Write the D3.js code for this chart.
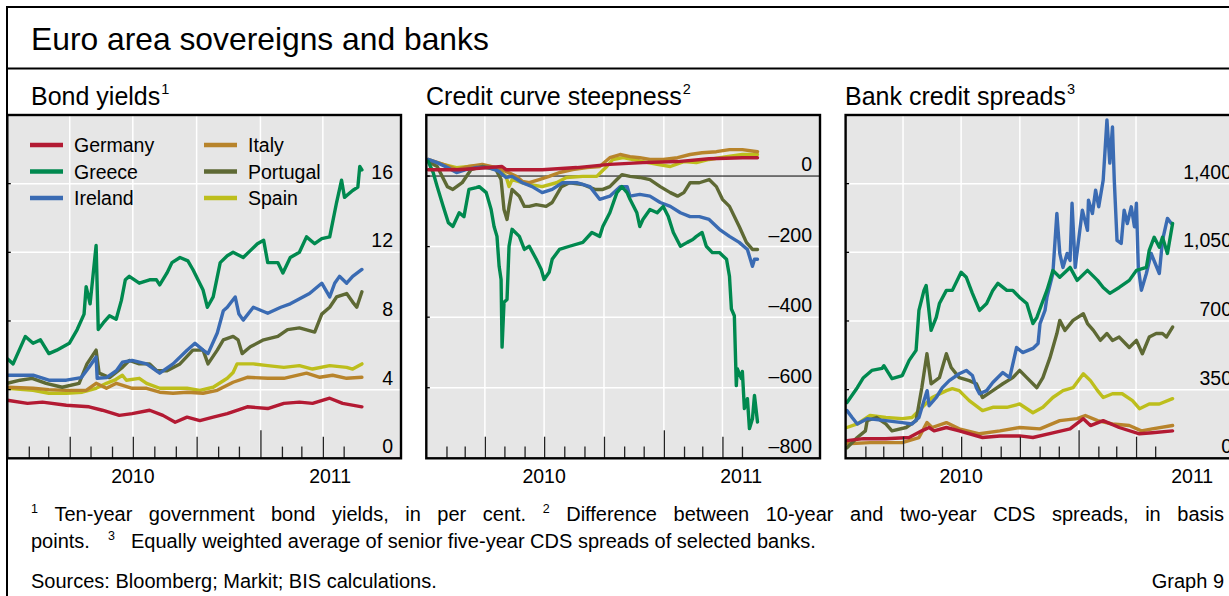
<!DOCTYPE html>
<html><head><meta charset="utf-8">
<script src="https://cdn.jsdelivr.net/npm/d3@7"></script>
<style>
html,body{margin:0;padding:0;background:#fff;overflow:hidden;}
svg{display:block;font-family:"Liberation Sans",Arial,Helvetica,sans-serif;}
</style></head><body>
<svg id="c" width="1229" height="596"></svg>
<script>
// ---------- DATA (t = months elapsed since 1 Jan 2010, value) ----------
const countries = ["Germany","Greece","Ireland","Italy","Portugal","Spain"];
const yieldTicks = [0,4,8,12,16];
const steepTicks = [-800,-600,-400,-200,0];
const bankTicks = [0,350,700,1050,1400];
const yearLabels = ["2010","2011"];

// Panel 1: ten-year bond yields, %
const yieldGermany = [[0,3.38],[0.94,3.2],[1.7,3.27],[2.84,3.09],[3.93,3.0],[4.55,2.8],[5.35,2.5],[5.97,2.6],[6.78,2.8],[7.4,2.5],[7.97,2.1],[8.54,2.4],[9.15,2.2],[9.77,2.4],[10.44,2.6],[11.39,3.0],[12.34,2.9],[13.1,3.2],[13.9,3.27],[14.52,3.2],[15.33,3.5],[15.95,3.2],[16.85,3.0]];
const yieldGreece = [[0,5.8],[0.27,5.5],[0.84,7.1],[1.22,6.7],[1.6,6.9],[2.03,6.1],[2.4,6.3],[2.98,6.7],[3.36,7.5],[3.69,8.4],[3.79,10.0],[3.98,9.0],[4.26,12.4],[4.36,7.5],[4.6,7.9],[4.88,8.3],[5.2,8.1],[5.45,9.2],[5.64,10.4],[5.83,10.6],[6.3,10.2],[6.78,10.4],[7.1,10.4],[7.25,10.1],[7.59,10.8],[7.82,11.4],[8.2,11.7],[8.58,11.5],[8.82,11.0],[9.3,9.8],[9.5,8.8],[9.77,9.4],[10.1,11.4],[10.44,11.8],[10.72,12.0],[11.2,11.7],[11.53,12.1],[11.86,12.5],[12.15,12.7],[12.34,11.4],[12.81,11.4],[13.05,10.8],[13.43,11.7],[13.9,12.0],[14.24,12.9],[14.62,12.5],[14.95,12.8],[15.33,12.9],[15.66,14.9],[15.9,16.2],[16.04,15.2],[16.42,15.6],[16.66,15.8],[16.75,17.0],[16.85,16.8]];
const yieldIreland = [[0,4.84],[1.22,4.84],[2.03,4.55],[2.84,4.55],[3.55,4.7],[3.93,5.3],[4.26,5.9],[4.31,4.66],[4.74,4.7],[5.21,5.1],[5.5,5.6],[5.97,5.7],[6.64,5.5],[7.25,4.96],[7.87,5.5],[8.54,6.3],[8.92,6.7],[9.3,6.3],[9.53,6.1],[9.96,7.3],[10.25,8.6],[10.44,8.8],[10.82,9.4],[11.0,8.4],[11.2,8.05],[11.67,8.8],[12.34,8.45],[12.95,8.8],[13.43,9.0],[14.38,9.6],[14.95,10.2],[15.33,9.4],[15.57,10.2],[15.8,10.6],[16.14,10.2],[16.42,10.6],[16.85,11.0]];
const yieldItaly = [[0,4.14],[1.22,4.08],[2.03,4.0],[2.84,3.96],[3.79,3.96],[4.26,4.37],[4.74,4.08],[5.21,4.37],[5.97,4.08],[6.64,4.08],[7.25,3.85],[7.87,3.79],[8.54,3.85],[9.3,3.79],[9.96,3.96],[10.72,4.43],[11.39,4.72],[12.34,4.66],[13.1,4.66],[14.24,4.96],[14.86,4.72],[15.47,4.84],[16.14,4.66],[16.85,4.72]];
const yieldPortugal = [[0,4.37],[0.6,4.55],[1.17,4.66],[1.89,4.37],[2.65,4.14],[3.45,4.37],[3.83,5.5],[4.26,6.3],[4.4,4.96],[4.88,4.7],[5.5,5.3],[5.83,5.7],[6.3,5.5],[6.78,5.5],[7.11,5.1],[7.59,5.1],[8.2,5.5],[8.82,6.3],[9.3,6.3],[9.53,5.5],[9.96,6.3],[10.25,6.9],[10.72,7.1],[10.96,6.9],[11.15,6.1],[11.53,6.5],[12.15,6.9],[12.81,7.1],[13.29,7.5],[13.9,7.6],[14.62,7.35],[14.95,8.4],[15.33,8.8],[15.66,9.4],[16.14,9.6],[16.42,9.1],[16.61,8.8],[16.85,9.7]];
const yieldSpain = [[0,4.08],[1.22,3.96],[2.03,3.79],[2.84,3.79],[3.6,3.85],[4.26,4.08],[4.74,4.37],[5.12,4.55],[5.5,4.84],[5.69,4.55],[6.3,4.66],[6.64,4.37],[7.25,4.08],[7.87,4.08],[8.54,4.08],[9.15,3.96],[9.77,4.14],[10.44,4.66],[10.72,5.0],[10.91,5.5],[11.67,5.5],[12.34,5.4],[13.1,5.3],[13.9,5.4],[14.52,5.2],[15.33,5.4],[16.14,5.3],[16.42,5.2],[16.85,5.5]];

// Panel 2: 10-year minus 2-year CDS spreads, bp
const steepGermany = [[0.09,18],[1.7,18],[3.88,27],[4.08,18],[5.9,18],[7.62,24],[9.29,33],[10.96,38],[12.68,41],[14.34,49],[16.02,52],[16.77,52]];
const steepGreece = [[0.09,42],[0.34,10],[0.54,-30],[0.84,-86],[1.1,-132],[1.35,-143],[1.7,-104],[1.96,-115],[2.21,-38],[2.57,-33],[2.72,-30],[3.07,-47],[3.32,-95],[3.47,-143],[3.62,-171],[3.73,-256],[3.83,-293],[3.88,-485],[3.98,-358],[4.13,-350],[4.23,-199],[4.38,-151],[4.74,-171],[4.99,-208],[5.24,-199],[5.6,-236],[5.85,-264],[6.0,-293],[6.25,-273],[6.4,-236],[6.76,-208],[7.26,-199],[7.92,-188],[8.38,-160],[8.78,-171],[8.94,-143],[9.29,-104],[9.64,-47],[9.89,-30],[10.15,-47],[10.3,-66],[10.65,-104],[10.8,-143],[10.96,-123],[11.31,-95],[11.67,-104],[11.97,-86],[12.22,-115],[12.47,-160],[12.82,-199],[13.18,-188],[13.48,-180],[13.68,-171],[13.99,-160],[14.2,-199],[14.5,-217],[14.85,-217],[15.21,-236],[15.36,-284],[15.46,-377],[15.61,-396],[15.71,-594],[15.76,-546],[15.97,-574],[16.02,-554],[16.12,-659],[16.27,-631],[16.37,-716],[16.52,-688],[16.62,-622],[16.77,-697]];
const steepIreland = [[0.09,47],[0.54,38],[1.05,24],[1.55,10],[2.06,18],[2.56,24],[3.22,24],[3.73,13],[4.08,-4],[4.38,-1],[4.89,-19],[5.39,-30],[5.9,-47],[6.4,-38],[6.91,-19],[7.62,-19],[8.28,-30],[8.78,-66],[9.29,-57],[9.8,-30],[10.15,-30],[10.3,-57],[10.8,-52],[11.31,-57],[11.82,-75],[12.32,-86],[12.82,-104],[13.33,-115],[13.84,-115],[14.34,-123],[14.85,-151],[15.36,-171],[15.86,-188],[16.27,-208],[16.52,-256],[16.62,-236],[16.77,-236]];
const steepItaly = [[0.09,47],[0.84,33],[1.55,18],[2.21,27],[2.87,33],[3.57,24],[4.08,13],[4.59,-1],[4.89,-15],[5.24,-19],[5.75,-10],[6.25,-1],[6.76,10],[7.42,18],[8.13,24],[8.78,27],[9.29,52],[9.8,61],[10.3,55],[10.8,52],[11.31,47],[11.97,47],[12.68,52],[13.33,61],[13.99,66],[14.7,69],[15.36,75],[16.02,75],[16.77,69]];
const steepPortugal = [[0.09,41],[0.54,27],[1.05,-30],[1.35,-38],[1.86,-19],[2.31,18],[2.87,27],[3.57,18],[3.83,-10],[3.98,-95],[4.13,-123],[4.23,-86],[4.38,-38],[4.74,-57],[4.99,-86],[5.24,-86],[5.6,-81],[6.1,-86],[6.4,-75],[6.86,-30],[7.26,-19],[7.92,-24],[8.53,-38],[8.94,-38],[9.29,-30],[9.64,-10],[9.89,4],[10.3,-1],[10.8,-4],[11.31,-10],[11.82,-30],[12.32,-47],[12.68,-57],[12.99,-47],[13.33,-19],[13.84,-19],[14.34,-10],[14.7,-30],[15.0,-66],[15.36,-86],[15.86,-143],[16.22,-188],[16.52,-208],[16.77,-208]];
const steepSpain = [[0.09,45],[0.84,33],[1.55,24],[2.21,27],[2.87,30],[3.57,24],[4.08,-1],[4.23,-30],[4.38,-10],[4.89,-19],[5.24,-24],[5.9,-30],[6.61,-19],[7.11,-4],[7.92,-1],[8.63,-1],[9.14,27],[9.44,47],[9.95,52],[10.45,47],[10.96,41],[11.67,33],[12.32,27],[12.99,41],[13.68,38],[14.34,47],[15.21,55],[16.02,61],[16.77,61]];

// Panel 3: bank five-year CDS spreads, bp
const bankGermany = [[0.07,90],[0.9,100],[2.13,100],[3.32,106],[3.98,140],[4.35,157],[4.6,140],[5.23,157],[5.9,140],[7.08,106],[7.96,114],[8.99,114],[9.66,106],[10.69,130],[11.57,150],[12.24,202],[12.6,167],[13.27,192],[14.15,157],[15.18,125],[15.85,130],[16.88,140]];
const bankGreece = [[0.07,284],[0.59,360],[0.9,411],[1.36,448],[1.93,458],[2.03,472],[2.44,406],[2.96,422],[3.32,499],[3.68,550],[3.83,754],[4.09,856],[4.2,881],[4.45,652],[4.71,718],[4.87,789],[5.23,856],[5.54,856],[6.0,948],[6.26,923],[6.57,841],[6.93,754],[7.29,789],[7.6,856],[7.86,892],[8.32,856],[8.63,856],[8.99,820],[9.35,789],[9.66,687],[9.86,718],[10.12,789],[10.38,856],[10.54,907],[10.69,958],[11.05,923],[11.57,973],[11.93,907],[12.45,958],[12.96,907],[13.27,871],[13.64,841],[14.15,871],[14.66,907],[15.02,958],[15.54,973],[15.69,1060],[15.95,1127],[16.21,1076],[16.37,1127],[16.62,1044],[16.88,1197]];
const bankIreland = [[0.07,243],[0.33,208],[0.59,175],[1.1,202],[2.13,192],[2.96,182],[3.47,175],[3.83,208],[4.09,294],[4.25,345],[4.35,268],[4.71,310],[5.02,360],[5.38,396],[5.9,431],[6.26,448],[6.57,422],[6.77,360],[6.93,329],[7.29,345],[7.6,386],[8.11,437],[8.47,411],[8.83,565],[9.14,539],[9.66,560],[9.92,585],[10.02,687],[10.28,754],[10.38,820],[10.69,942],[10.9,1248],[11.05,1044],[11.21,973],[11.42,1044],[11.57,1009],[11.67,1300],[11.83,973],[11.98,1095],[12.19,1265],[12.45,1162],[12.5,1316],[12.7,1248],[12.86,1367],[13.02,1282],[13.27,1418],[13.48,1725],[13.64,1505],[13.79,1689],[13.89,1418],[14.04,1111],[14.25,1095],[14.4,1265],[14.56,1197],[14.76,1282],[14.92,1180],[15.02,1300],[15.12,973],[15.28,856],[15.54,942],[15.79,1044],[16.21,942],[16.37,1111],[16.62,1223],[16.82,1197]];
const bankItaly = [[0.07,74],[1.26,80],[2.13,80],[2.96,80],[3.83,106],[4.24,182],[4.5,157],[5.23,182],[5.9,150],[6.93,125],[7.96,140],[8.99,157],[10.02,150],[11.05,192],[11.93,202],[12.34,218],[12.96,192],[13.79,175],[14.66,167],[15.28,140],[15.85,150],[16.88,167]];
const bankPortugal = [[0.07,54],[0.59,106],[1.0,140],[1.1,192],[1.62,208],[2.13,175],[2.44,140],[3.16,157],[3.68,192],[3.98,360],[4.24,533],[4.45,380],[4.87,411],[5.23,533],[5.48,463],[5.9,411],[6.41,396],[6.77,380],[7.08,310],[7.6,345],[8.11,380],[8.63,411],[8.99,448],[9.35,411],[9.86,360],[10.17,411],[10.54,513],[10.9,636],[11.05,703],[11.31,652],[11.72,703],[12.24,737],[12.45,687],[12.75,652],[13.11,601],[13.48,636],[13.79,601],[14.15,618],[14.66,565],[15.02,601],[15.33,533],[15.69,618],[16.05,636],[16.37,636],[16.57,618],[16.88,669]];
const bankSpain = [[0.07,157],[0.59,175],[1.26,218],[2.13,208],[2.96,202],[3.47,208],[3.83,243],[4.5,310],[5.23,345],[5.54,355],[5.9,345],[6.41,294],[7.08,243],[7.6,260],[8.32,260],[8.99,277],[9.66,232],[10.17,260],[10.69,310],[11.21,345],[11.72,360],[12.24,431],[12.6,396],[12.96,345],[13.27,310],[13.79,329],[14.3,329],[14.82,294],[15.18,253],[15.69,277],[16.21,277],[16.88,304]];

// ---------- STYLE / LAYOUT ----------
const colors = {Germany:"#B31A33",Greece:"#00894F",Ireland:"#3A6BB3",Italy:"#B8842B",Portugal:"#5E6934",Spain:"#BDBE1C"};
const drawOrder = ["Spain","Italy","Portugal","Ireland","Greece","Germany"];
const base = new Date(2010,0,1);
function monthToDate(t){
  const m = Math.floor(t);
  const a = d3.timeMonth.offset(base, m), b = d3.timeMonth.offset(base, m+1);
  return new Date(+a + (t-m)*(b-a));
}
const FONT = 19.5, NOTE_FONT = 20;
const svg = d3.select("#c");

// outer frame
svg.append("rect").attr("x",7).attr("y",7).attr("width",1260).attr("height",620)
  .attr("fill","none").attr("stroke","#000").attr("stroke-width",2);
svg.append("line").attr("x1",7).attr("x2",1260).attr("y1",68.5).attr("y2",68.5)
  .attr("stroke","#000").attr("stroke-width",2);
svg.append("text").attr("x",31).attr("y",50).attr("font-size",31.8).attr("fill","#000")
  .text("Euro area sovereigns and banks");

const panels = [
  {title:"Bond yields", note:"1", tx:31, left:7.3, right:401, endT:18.7, lab2011:15.35,
   domain:[0,20], ticks:yieldTicks, zero:false, legend:true,
   data:{Germany:yieldGermany,Greece:yieldGreece,Ireland:yieldIreland,Italy:yieldItaly,Portugal:yieldPortugal,Spain:yieldSpain}},
  {title:"Credit curve steepness", note:"2", tx:426, left:426.3, right:820, endT:19.9, lab2011:15.96,
   domain:[-800,173], ticks:steepTicks, zero:true, legend:false,
   data:{Germany:steepGermany,Greece:steepGreece,Ireland:steepIreland,Italy:steepItaly,Portugal:steepPortugal,Spain:steepSpain}},
  {title:"Bank credit spreads", note:"3", tx:845, left:845.6, right:1240, endT:20.33, lab2011:17.9,
   domain:[0,1750], ticks:bankTicks, zero:false, legend:false,
   data:{Germany:bankGermany,Greece:bankGreece,Ireland:bankIreland,Italy:bankItaly,Portugal:bankPortugal,Spain:bankSpain}}
];
const plotTop = 115, plotBottom = 458.3;
const fmt = d3.format(",");
const fmtLabel = v => fmt(v).replace("−","–").replace("-","–");

panels.forEach((p,i) => {
  const x = d3.scaleTime().domain([base, monthToDate(p.endT)]).range([p.left, p.right]);
  const y = d3.scaleLinear().domain(p.domain).range([plotBottom, plotTop]);
  const g = svg.append("g");

  // subtitle
  const st = g.append("text").attr("x",p.tx).attr("y",105).attr("font-size",25).attr("fill","#000");
  st.append("tspan").text(p.title);
  st.append("tspan").attr("font-size",14.5).attr("dy",-11).attr("dx",1).text(p.note);

  g.append("rect").attr("x",p.left).attr("y",plotTop).attr("width",p.right-p.left).attr("height",plotBottom-plotTop).attr("fill","#E6E6E6");

  // horizontal gridlines
  g.selectAll(".hg").data(p.ticks.filter(v => v !== p.domain[0] && !(p.zero && v===0))).join("line")
    .attr("x1",p.left).attr("x2",p.right).attr("y1",d=>y(d)).attr("y2",d=>y(d))
    .attr("stroke","#fff").attr("stroke-width",1.5);
  // vertical quarterly gridlines
  const quarters = [3,6,9,12,15].map(monthToDate);
  g.selectAll(".vg").data(quarters).join("line")
    .attr("x1",d=>x(d)).attr("x2",d=>x(d)).attr("y1",plotTop).attr("y2",plotBottom)
    .attr("stroke","#fff").attr("stroke-width",1.5);
  if (p.zero) {
    g.append("line").attr("x1",p.left).attr("x2",p.right).attr("y1",y(0)).attr("y2",y(0))
      .attr("stroke","#000").attr("stroke-width",1);
  }

  // series
  const clipId = "clip"+i;
  svg.append("clipPath").attr("id",clipId).append("rect")
    .attr("x",p.left).attr("y",plotTop).attr("width",p.right-p.left).attr("height",plotBottom-plotTop);
  const line = d3.line().x(d=>x(monthToDate(d[0]))).y(d=>y(d[1]));
  const lg = g.append("g").attr("clip-path",`url(#${clipId})`);
  drawOrder.forEach(c => {
    lg.append("path").datum(p.data[c]).attr("d",line).attr("fill","none")
      .attr("stroke",colors[c]).attr("stroke-width",3.4)
      .attr("stroke-linejoin","round").attr("stroke-linecap","round");
  });

  // bottom ticks (month / quarter / year)
  const tickSets = [
    {vals:[1,2,4,5,7,8,10,11,13,14,16], size:11.7},
    {vals:[3,6,9,15], size:21.6},
    {vals:[12], size:28}
  ];
  tickSets.forEach(ts => {
    const ax = g.append("g").attr("transform",`translate(0,${plotBottom})`)
      .call(d3.axisBottom(x).tickValues(ts.vals.map(monthToDate)).tickSize(-ts.size).tickFormat(""));
    ax.select(".domain").remove();
    ax.selectAll("line").attr("stroke","#222").attr("stroke-width",1.3);
  });

  // small left ticks at gridlines
  g.selectAll(".lt").data(p.ticks.filter(v => v !== p.domain[0])).join("line")
    .attr("x1",p.left).attr("x2",p.left+3.5).attr("y1",d=>y(d)).attr("y2",d=>y(d))
    .attr("stroke","#000").attr("stroke-width",1.3);

  // border
  g.append("rect").attr("x",p.left).attr("y",plotTop).attr("width",p.right-p.left).attr("height",plotBottom-plotTop)
    .attr("fill","none").attr("stroke","#000").attr("stroke-width",2.4);

  // y labels
  g.selectAll(".yl").data(p.ticks).join("text")
    .attr("x",p.right-8).attr("y",d=>y(d)-5).attr("text-anchor","end")
    .attr("font-size",FONT).attr("fill","#000").text(fmtLabel);

  // year labels
  const yl = [6, p.lab2011];
  g.selectAll(".xl").data(yearLabels).join("text")
    .attr("x",(d,j)=>x(monthToDate(yl[j]))).attr("y",483).attr("text-anchor","middle")
    .attr("font-size",FONT).attr("fill","#000").text(d=>d);

  // legend
  if (p.legend) {
    const legOrder = [["Germany","Greece","Ireland"],["Italy","Portugal","Spain"]];
    const colX = [30,204];
    legOrder.forEach((col,ci) => col.forEach((c,ri) => {
      const cy = 145 + ri*26.5;
      g.append("line").attr("x1",colX[ci]).attr("x2",colX[ci]+33).attr("y1",cy).attr("y2",cy)
        .attr("stroke",colors[c]).attr("stroke-width",4.5);
      g.append("text").attr("x",colX[ci]+44).attr("y",cy+7).attr("font-size",FONT).attr("fill","#000").text(c);
    }));
  }
});

// ---------- FOOTNOTES ----------
const noteLine1 = [{s:"1"},"Ten-year","government","bond","yields,","in","per","cent.",{s:"2"},"Difference","between","10-year","and","two-year","CDS","spreads,","in","basis"];
(function justify(tokens, x0, x1, yb){
  const els = tokens.map(tk => {
    const sup = typeof tk === "object";
    const t = svg.append("text").attr("y", sup ? yb-8 : yb).attr("font-size", sup ? 12.5 : NOTE_FONT)
      .attr("fill","#000").text(sup ? tk.s : tk);
    return {el:t, w:t.node().getComputedTextLength()};
  });
  const gap = (x1 - x0 - d3.sum(els, e=>e.w)) / (els.length - 1);
  let cx = x0;
  els.forEach(e => { e.el.attr("x", cx); cx += e.w + gap; });
})(noteLine1, 31, 1224, 521);

svg.append("text").attr("x",31).attr("y",548).attr("font-size",NOTE_FONT).text("points.");
svg.append("text").attr("x",108).attr("y",540).attr("font-size",12.5).text("3");
svg.append("text").attr("x",131).attr("y",548).attr("font-size",NOTE_FONT)
  .text("Equally weighted average of senior five-year CDS spreads of selected banks.");
svg.append("text").attr("x",31).attr("y",588).attr("font-size",NOTE_FONT)
  .text("Sources: Bloomberg; Markit; BIS calculations.");
svg.append("text").attr("x",1224).attr("y",588).attr("font-size",NOTE_FONT).attr("text-anchor","end")
  .text("Graph 9");
</script>
</body></html>
